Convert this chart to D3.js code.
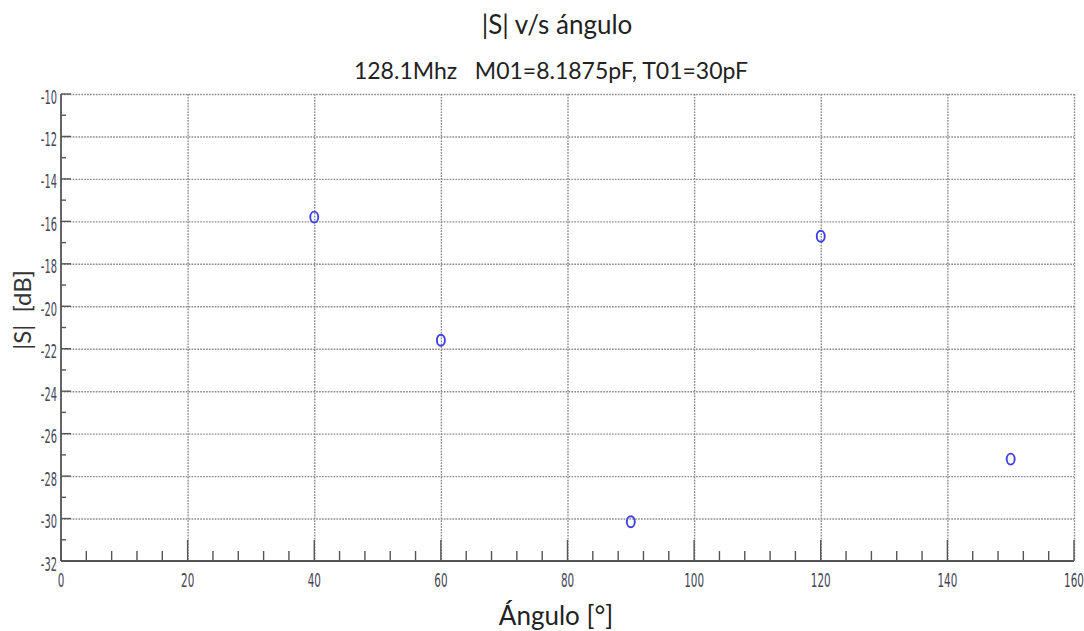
<!DOCTYPE html>
<html>
<head>
<meta charset="utf-8">
<script src="https://cdn.jsdelivr.net/npm/d3@7"></script>
<style>
  html, body { margin: 0; padding: 0; background: #fff; }
  svg { display: block; }
  text { white-space: pre; }
</style>
</head>
<body>
<svg id="chart" width="1084" height="631"></svg>
<script>
// Measured |S| at each angle
const angles = [40, 60, 90, 120, 150];
const sdB = [-15.8, -21.6, -30.15, -16.7, -27.2];

const xTicks = [0, 20, 40, 60, 80, 100, 120, 140, 160];
const yTicks = [-10, -12, -14, -16, -18, -20, -22, -24, -26, -28, -30, -32];
const xMinor = d3.range(0, 161, 4);
const yMinor = d3.range(-32, -9, 1);

const titleText = "|S| v/s ángulo";
const subtitleText = "128.1Mhz   M01=8.1875pF, T01=30pF";
const xLabel = "Ángulo [°]";
const yLabel = "|S|  [dB]";

(function draw() {
  const svg = d3.select("#chart");
  const pLeft = 61, pRight = 1074, pTop = 94, pBottom = 561;

  const x = d3.scaleLinear().domain([0, 160]).range([pLeft, pRight]);
  const y = d3.scaleLinear().domain([-32, -10]).range([pBottom, pTop]);

  const textFont = "Lato, 'Open Sans', sans-serif";
  const tickFont = "'DejaVu Sans', sans-serif";
  const tickSquash = 0.52;

  // dotted grid
  const grid = svg.append("g").attr("stroke", "#8c8c8c").attr("stroke-width", 1.4)
    .attr("stroke-dasharray", "1.7,1.2");
  grid.selectAll("line.h").data(yTicks.filter(v => v !== -32)).join("line")
    .attr("x1", pLeft).attr("x2", pRight)
    .attr("y1", d => y(d) + 0.5).attr("y2", d => y(d) + 0.5);
  grid.selectAll("line.v").data(xTicks.filter(v => v !== 0)).join("line")
    .attr("y1", pTop).attr("y2", pBottom)
    .attr("x1", d => x(d) + 0.5).attr("x2", d => x(d) + 0.5);

  // inward ticks
  const ticks = svg.append("g").attr("stroke", "#555").attr("stroke-width", 1.4);
  ticks.selectAll("line.xm").data(xMinor).join("line")
    .attr("x1", d => x(d)).attr("x2", d => x(d))
    .attr("y1", pBottom).attr("y2", d => pBottom - (d % 20 === 0 ? 21 : 10));
  ticks.selectAll("line.ym").data(yMinor).join("line")
    .attr("y1", d => y(d)).attr("y2", d => y(d))
    .attr("x1", pLeft).attr("x2", d => pLeft + (d % 2 === 0 ? 10 : 5));

  // axis lines
  const axisG = svg.append("g").attr("stroke", "#555").attr("stroke-width", 1.8);
  axisG.append("line").attr("x1", pLeft).attr("x2", pLeft).attr("y1", pTop).attr("y2", pBottom);
  axisG.append("line").attr("x1", pLeft).attr("x2", pRight).attr("y1", pBottom).attr("y2", pBottom);

  // condensed tick labels
  svg.append("g").selectAll("text").data(xTicks).join("text")
    .attr("transform", d => `translate(${x(d)},587) scale(${tickSquash},1)`)
    .attr("text-anchor", "middle")
    .attr("font-family", tickFont).attr("font-size", 20)
    .attr("fill", "#454556")
    .text(d => d);
  svg.append("g").selectAll("text").data(yTicks).join("text")
    .attr("transform", d => `translate(${pLeft - 4},${y(d) + 9.5}) scale(${tickSquash},1)`)
    .attr("text-anchor", "end")
    .attr("font-family", tickFont).attr("font-size", 19)
    .attr("fill", "#454556")
    .text(d => d);

  // data markers
  svg.append("g").selectAll("ellipse").data(angles).join("ellipse")
    .attr("cx", d => x(d))
    .attr("cy", (d, i) => y(sdB[i]))
    .attr("rx", 4).attr("ry", 5.5)
    .attr("fill", "none").attr("stroke", "#4040ea").attr("stroke-width", 1.9);

  // titles
  svg.append("text").attr("x", 557).attr("y", 34).attr("text-anchor", "middle")
    .attr("font-family", textFont).attr("font-size", 26).attr("fill", "#222")
    .text(titleText);
  svg.append("text").attr("x", 551).attr("y", 79).attr("text-anchor", "middle")
    .attr("font-family", textFont).attr("font-size", 23).attr("fill", "#222")
    .text(subtitleText);
  svg.append("text").attr("x", 556).attr("y", 625).attr("text-anchor", "middle")
    .attr("font-family", textFont).attr("font-size", 26).attr("fill", "#222")
    .text(xLabel);
  svg.append("text")
    .attr("transform", "translate(31,310) rotate(-90)")
    .attr("text-anchor", "middle")
    .attr("font-family", textFont).attr("font-size", 24).attr("fill", "#333")
    .text(yLabel);
})();
</script>
</body>
</html>
